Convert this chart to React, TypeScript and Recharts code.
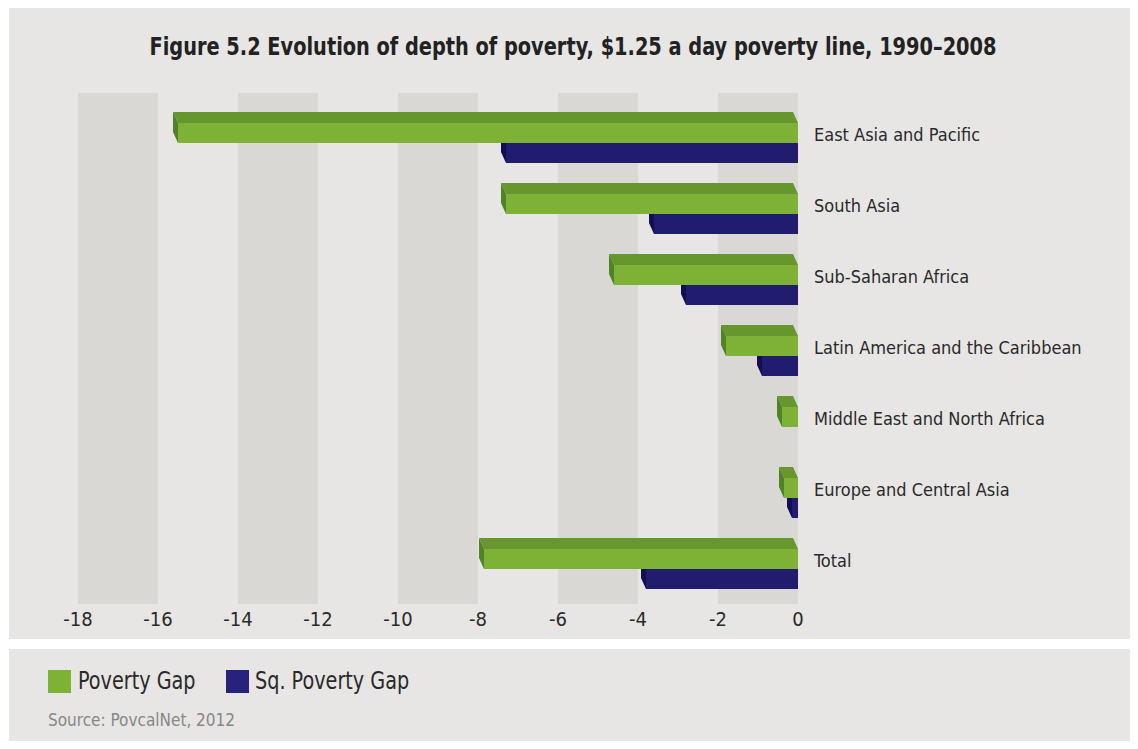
import { Bar, BarChart, CartesianGrid, XAxis, YAxis } from "recharts";

const regions = [
  "East Asia and Pacific",
  "South Asia",
  "Sub-Saharan Africa",
  "Latin America and the Caribbean",
  "Middle East and North Africa",
  "Europe and Central Asia",
  "Total",
];
const povertyGap = [-15.5, -7.3, -4.6, -1.8, -0.4, -0.35, -7.85];
const sqPovertyGap = [-7.3, -3.6, -2.8, -0.9, 0, -0.15, -3.8];
const xTicks = [-18, -16, -14, -12, -10, -8, -6, -4, -2, 0];

const data = regions.map((region, i) => ({
  region,
  gap: povertyGap[i],
  sq: sqPovertyGap[i],
}));

const FONT = '"Liberation Sans Narrow", "Arial Narrow", "DejaVu Sans Condensed", sans-serif';
const GREEN = "#7db236";
const NAVY = "#221c6f";
const DX = 5;
const DY = 11;

function GreenBox(props: any) {
  const { x, y, width, height } = props;
  if (!width) return null;
  const l = Math.min(x, x + width);
  const w = Math.abs(width);
  const h = height;
  return (
    <g>
      <polygon
        points={`${l},${y} ${l + w},${y} ${l + w - DX},${y - DY} ${l - DX},${y - DY}`}
        fill="#66962d"
      />
      <polygon
        points={`${l},${y} ${l},${y + h} ${l - DX},${y + h - DY} ${l - DX},${y - DY}`}
        fill="#4f8325"
      />
      <rect x={l} y={y} width={w} height={h} fill={GREEN} />
    </g>
  );
}

function NavyBox(props: any) {
  const { x, y, width, height } = props;
  if (!width) return null;
  const l = Math.min(x, x + width);
  const w = Math.abs(width);
  const h = height;
  return (
    <g>
      <polygon
        points={`${l - DX},${y} ${l},${y} ${l},${y + h} ${l - DX},${y + h - DY}`}
        fill="#120e55"
      />
      <rect x={l} y={y} width={w} height={h} fill={NAVY} />
    </g>
  );
}

function RegionTick(props: any) {
  const { x, y, payload } = props;
  return (
    <text x={x} y={y - 8} dy="0.355em" fill="#2a2a2a" fontSize={18} fontFamily={FONT} textAnchor="start">
      {payload.value}
    </text>
  );
}

export default function App() {
  return (
    <div style={{ position: "relative", width: 1138, height: 749, margin: -8, background: "#ffffff", fontFamily: FONT }}>
      <div style={{ position: "absolute", left: 9, top: 7, width: 1127, height: 632, background: "#e7e6e4" }} />
      <div style={{ position: "absolute", left: 9, top: 649, width: 1127, height: 100, background: "#e7e6e4" }} />
      <div
        style={{
          position: "absolute",
          left: 0,
          top: 30,
          width: 1146,
          textAlign: "center",
          fontSize: 25,
          fontWeight: 700,
          color: "#222",
          lineHeight: "34px",
          transform: "scaleX(0.86)",
        }}
      >
        Figure 5.2 Evolution of depth of poverty, $1.25 a day poverty line, 1990–2008
      </div>
      <div style={{ position: "absolute", left: 0, top: 0 }}>
        <BarChart
          width={1138}
          height={640}
          data={data}
          layout="vertical"
          margin={{ top: 93, right: 40, bottom: 6, left: 78 }}
          barGap={0}
        >
          <CartesianGrid
            horizontal={false}
            vertical
            stroke="transparent"
            verticalFill={["#d9d8d5", "transparent"]}
            fillOpacity={1}
          />
          <XAxis
            type="number"
            domain={[-18, 0]}
            ticks={xTicks}
            axisLine={false}
            tickLine={false}
            tickSize={0}
            tickMargin={8}
            height={30}
            tick={{ fill: "#2a2a2a", fontSize: 20, fontFamily: FONT }}
          />
          <YAxis
            type="category"
            dataKey="region"
            orientation="right"
            width={300}
            axisLine={false}
            tickLine={false}
            tickSize={0}
            tickMargin={16}
            padding={{ top: 14, bottom: 0 }}
            tick={<RegionTick />}
          />
          <Bar dataKey="gap" name="Poverty Gap" barSize={20} shape={<GreenBox />} isAnimationActive={false} />
          <Bar dataKey="sq" name="Sq. Poverty Gap" barSize={20} shape={<NavyBox />} isAnimationActive={false} />
        </BarChart>
      </div>
      <div
        style={{
          position: "absolute",
          left: 48,
          top: 667,
          display: "flex",
          alignItems: "center",
          fontSize: 24,
          color: "#2a2a2a",
        }}
      >
        <span style={{ width: 23, height: 23, background: GREEN, display: "inline-block", marginRight: 7 }} />
        <span style={{ display: "inline-block", width: 117, marginRight: 31, whiteSpace: "nowrap" }}>
          <span style={{ display: "inline-block", transform: "scaleX(0.89)", transformOrigin: "left center" }}>Poverty Gap</span>
        </span>
        <span style={{ width: 23, height: 23, background: "#27237a", display: "inline-block", marginRight: 6 }} />
        <span style={{ display: "inline-block", transform: "scaleX(0.89)", transformOrigin: "left center", whiteSpace: "nowrap" }}>
          Sq. Poverty Gap
        </span>
      </div>
      <div style={{ position: "absolute", left: 48, top: 710, fontSize: 17, color: "#878787" }}>
        Source: PovcalNet, 2012
      </div>
    </div>
  );
}
